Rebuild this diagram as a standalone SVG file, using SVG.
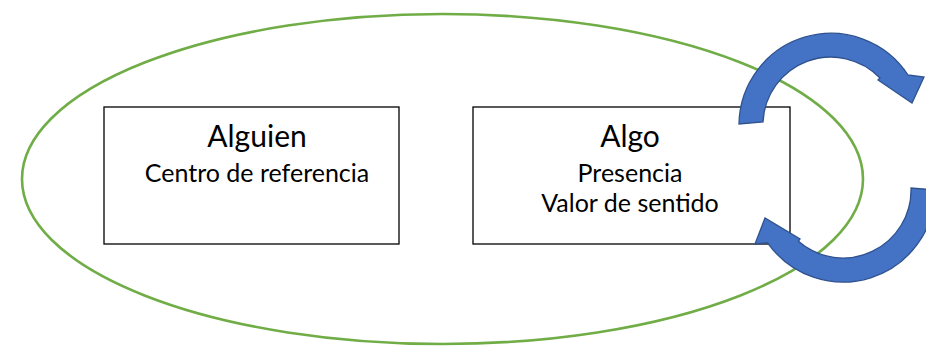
<svg xmlns="http://www.w3.org/2000/svg" width="926" height="346" viewBox="0 0 926 346">
<style>
.box{fill:#ffffff;stroke:#000000;stroke-width:1.3}
.t1{font-family:Lato,"Liberation Sans",sans-serif;font-size:30px;fill:#000;text-anchor:middle}
.t2{font-family:Lato,"Liberation Sans",sans-serif;font-size:25px;fill:#000;text-anchor:middle}
.arr{fill:#4472C4;stroke:#2F528F;stroke-width:1.3;stroke-linejoin:miter}
</style>
<rect width="926" height="346" fill="#ffffff"/>
<g id="ellipse">
<ellipse cx="442.5" cy="179" rx="420.5" ry="165" fill="none" stroke="#70AD47" stroke-width="2.6"/>
</g>
<g id="alguien">
<rect class="box" x="104" y="107" width="295" height="137"/>
<text class="t1" x="257" y="147">Alguien</text>
<text class="t2" x="257" y="182">Centro de referencia</text>
</g>
<g id="algo">
<rect class="box" x="473" y="107" width="317" height="137"/>
<text class="t1" x="630" y="147">Algo</text>
<text class="t2" x="630" y="182">Presencia</text>
<text class="t2" x="630" y="212">Valor de sentido</text>
</g>
<g id="connectors">
<path class="arr" d="M 739,124 A 92 92 0 0 1 908,75 L 924,77 L 912,103 L 878,80 L 880,78 A 68 68 0 0 0 763,122 Z"/>
<path class="arr" d="M 935,190 A 92 92 0 0 1 767.6,242.8 L 755,244 L 765,218 L 800,239 L 798.4,241.3 A 68 68 0 0 0 911,188 Z"/>
</g>
</svg>
